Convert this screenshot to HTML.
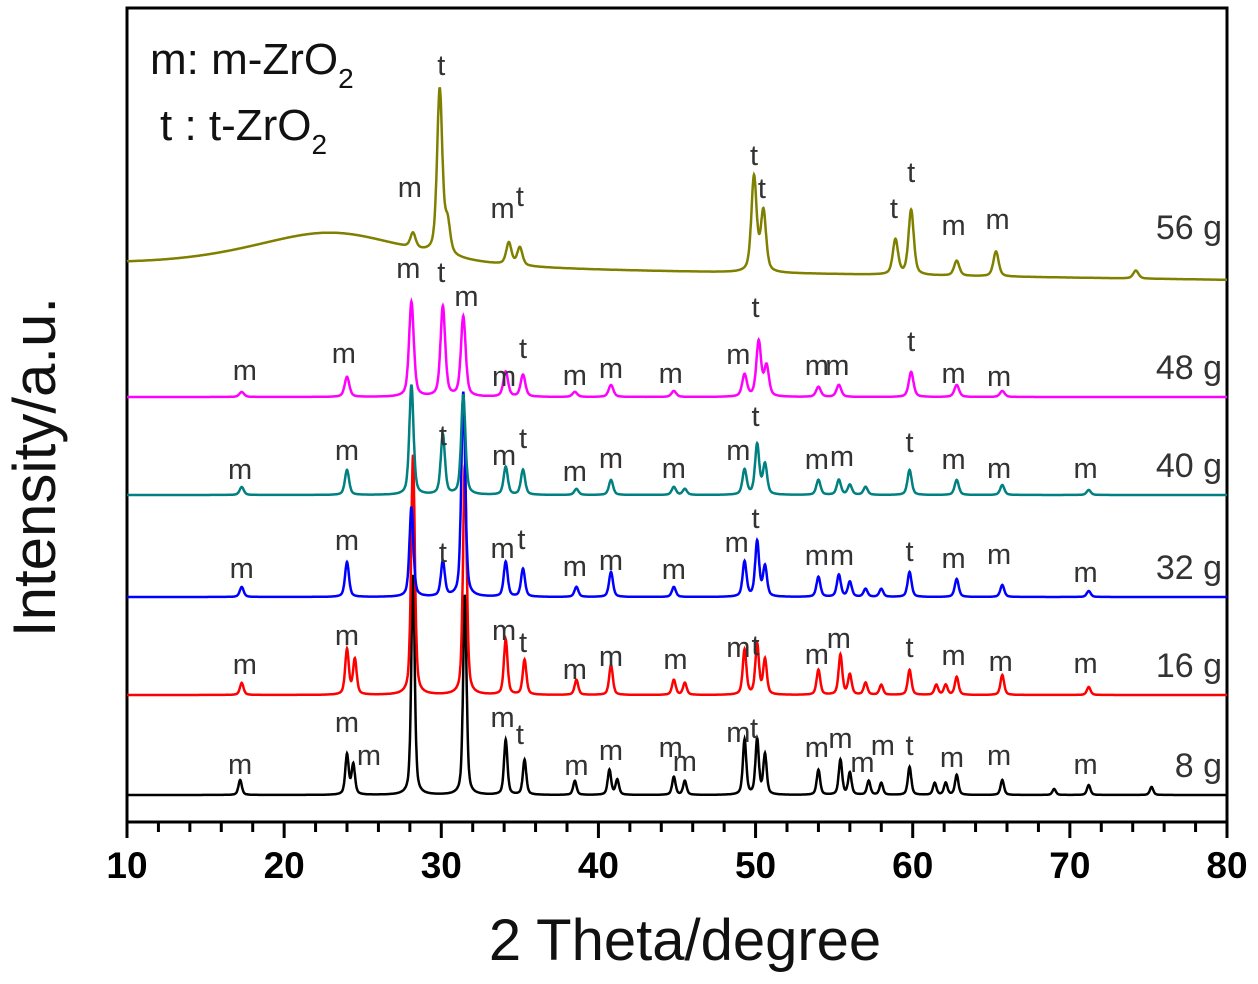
<!DOCTYPE html>
<html><head><meta charset="utf-8"><style>
body{margin:0;background:#fff;}
svg text{font-family:"Liberation Sans",Arial,sans-serif;}
</style></head><body>
<svg id="chart" width="1258" height="979" viewBox="0 0 1258 979" xmlns="http://www.w3.org/2000/svg">
<rect x="127" y="8" width="1100" height="814" fill="none" stroke="#000" stroke-width="3"/>
<g id="series"></g>
<g id="ticks"></g>
<g id="labels" font-size="29" fill="#333"></g>
<text x="150" y="74" font-size="44" fill="#111">m: m-ZrO<tspan font-size="28" dy="14">2</tspan></text>
<text x="160" y="140" font-size="44" fill="#111">t : t-ZrO<tspan font-size="28" dy="14">2</tspan></text>
<text x="685" y="960" font-size="58" text-anchor="middle" fill="#111">2 Theta/degree</text>
<text transform="translate(55,467) rotate(-90)" font-size="60" text-anchor="middle" fill="#111">Intensity/a.u.</text>
</svg>
<script>
const seriesNames = ['8 g','16 g','32 g','40 g','48 g','56 g'];
const seriesColors = ['#000000','#ff0000','#0000ff','#008080','#ff00ff','#808000'];
const seriesOffsets = [30,130,228,330,428,560];
const seriesWidths = [0.13,0.14,0.15,0.16,0.18,0.2];
const peaks8 = [[17.2,15],[24.0,40],[24.4,30],[28.2,220],[31.5,200],[34.1,55],[35.3,35],[38.5,14],[40.7,25],[41.2,15],[44.8,18],[45.5,14],[49.3,55],[50.1,55],[50.6,40],[54.0,25],[55.4,35],[56.0,22],[57.2,14],[58.0,12],[59.8,28],[61.4,12],[62.1,12],[62.8,20],[65.7,15],[69.0,6],[71.2,10],[75.2,8]];
const peaks16 = [[17.3,12],[24.0,45],[24.5,35],[28.2,240],[31.5,230],[34.1,55],[35.3,35],[38.6,15],[40.8,30],[44.8,15],[45.5,12],[49.3,45],[50.1,50],[50.6,35],[54.0,25],[55.4,40],[56.0,20],[57.0,12],[58.0,10],[59.8,25],[61.5,10],[62.1,10],[62.8,18],[65.7,20],[71.2,8]];
const peaks32 = [[17.3,10],[24.0,35],[28.1,90],[30.1,35],[31.4,205],[34.1,35],[35.2,28],[38.6,10],[40.8,25],[44.8,10],[49.3,35],[50.1,55],[50.6,30],[54.0,20],[55.3,22],[56.0,15],[57.0,8],[58.0,8],[59.8,25],[62.8,18],[65.7,12],[71.2,6]];
const peaks40 = [[17.3,8],[24.0,25],[28.1,110],[30.1,60],[31.4,100],[34.1,28],[35.2,25],[38.6,6],[40.8,15],[44.8,8],[45.5,6],[49.3,25],[50.1,50],[50.6,30],[54.0,15],[55.3,15],[56.0,10],[57.0,8],[59.8,25],[62.8,15],[65.7,10],[71.2,5]];
const peaks48 = [[17.3,5],[24.0,20],[28.1,95],[30.1,90],[31.4,80],[34.1,25],[35.2,22],[38.5,5],[40.8,12],[44.8,6],[49.3,22],[50.2,55],[50.7,30],[54.0,10],[55.3,12],[59.9,25],[62.8,12],[65.7,6]];
const peaks56 = [[23.0,35,6],[28.2,15],[29.9,165],[30.4,30],[34.3,22],[35.0,18],[49.9,95],[50.5,60],[58.9,35],[59.9,65],[62.8,15],[65.3,25],[74.2,8]];
const baseStart56 = 0, baseEnd56 = -15;
const allPeaks = [peaks8,peaks16,peaks32,peaks40,peaks48,peaks56];
const xTicks = [10,20,30,40,50,60,70,80];
const peakLabels = [
 [17.2,774,'m'],[24.0,732,'m'],[25.4,765,'m'],[33.9,727,'m'],[35.0,744,'t'],[38.6,775,'m'],[40.8,760,'m'],[44.6,757,'m'],[45.5,771,'m'],[48.9,742,'m'],[49.9,738,'t'],[53.9,757,'m'],[55.4,748,'m'],[56.8,772,'m'],[58.1,755,'m'],[59.8,755,'t'],[62.5,767,'m'],[65.5,765,'m'],[71.0,774,'m'],
 [17.5,674,'m'],[24.0,645,'m'],[34.0,640,'m'],[35.2,652,'t'],[38.5,679,'m'],[40.8,666,'m'],[44.9,669,'m'],[48.9,657,'m'],[50.0,655,'t'],[53.9,664,'m'],[55.3,648,'m'],[59.8,657,'t'],[62.6,665,'m'],[65.6,671,'m'],[71.0,673,'m'],
 [17.3,578,'m'],[24.0,550,'m'],[30.1,562,'t'],[33.9,558,'m'],[35.1,549,'t'],[38.5,576,'m'],[40.8,570,'m'],[44.8,579,'m'],[48.8,552,'m'],[50.0,528,'t'],[53.9,565,'m'],[55.5,565,'m'],[59.8,561,'t'],[62.6,568,'m'],[65.5,564,'m'],[71.0,582,'m'],
 [17.2,479,'m'],[24.0,460,'m'],[30.1,445,'t'],[34.0,465,'m'],[35.2,448,'t'],[38.5,481,'m'],[40.8,468,'m'],[44.8,478,'m'],[48.9,460,'m'],[50.0,426,'t'],[53.9,469,'m'],[55.5,466,'m'],[59.8,452,'t'],[62.6,469,'m'],[65.5,478,'m'],[71.0,478,'m'],
 [17.5,380,'m'],[23.8,363,'m'],[27.9,278,'m'],[30.0,282,'t'],[31.6,306,'m'],[34.0,386,'m'],[35.2,358,'t'],[38.5,385,'m'],[40.8,378,'m'],[44.6,383,'m'],[48.9,364,'m'],[50.0,317,'t'],[53.9,375,'m'],[55.2,375,'m'],[59.9,351,'t'],[62.6,383,'m'],[65.5,386,'m'],
 [28.0,197,'m'],[30.0,75,'t'],[33.9,218,'m'],[35.0,206,'t'],[49.9,165,'t'],[50.4,198,'t'],[58.8,218,'t'],[59.9,182,'t'],[62.6,235,'m'],[65.4,229,'m']
];
const NS='http://www.w3.org/2000/svg';
const X0=127,X1=1227,Y0=825;
function xScale(d){return X0+(d-10)*(X1-X0)/70;}
function yScale(v){return Y0-v;}
const g=document.getElementById('series');
allPeaks.forEach((pk,si)=>{
  let pts=[];
  for(let d=10;d<=80.001;d+=0.02){
    let v=seriesOffsets[si];
    if(si===5) v+=baseStart56+(baseEnd56-baseStart56)*(d-10)/70;
    pk.forEach(p=>{const w=p[2]||seriesWidths[si];const t=(d-p[0])/w;v+=p[1]*(0.5/(1+t*t)+0.5*Math.exp(-t*t*0.7));});
    pts.push(xScale(d).toFixed(1)+','+yScale(v).toFixed(1));
  }
  const pl=document.createElementNS(NS,'polyline');
  pl.setAttribute('points',pts.join(' '));
  pl.setAttribute('fill','none');
  pl.setAttribute('stroke',seriesColors[si]);
  pl.setAttribute('stroke-width','2.5');
  
  
  g.appendChild(pl);
  const tx=document.createElementNS(NS,'text');
  tx.setAttribute('x','1222');tx.setAttribute('y',String(yScale(seriesOffsets[si])-18-(si===5?8:0)));
  tx.setAttribute('text-anchor','end');tx.setAttribute('font-size','34');tx.setAttribute('fill','#333');
  
  
  tx.textContent=seriesNames[si];
  g.appendChild(tx);
});
const tg=document.getElementById('ticks');
for(let d=10;d<=80;d+=2){
  const major=(d%10===0);
  const ln=document.createElementNS(NS,'line');
  ln.setAttribute('x1',xScale(d));ln.setAttribute('x2',xScale(d));
  ln.setAttribute('y1','822');ln.setAttribute('y2',major?'838':'832');
  ln.setAttribute('stroke','#000');ln.setAttribute('stroke-width','3');
  
  
  tg.appendChild(ln);
}
xTicks.forEach(d=>{
  const t=document.createElementNS(NS,'text');
  t.setAttribute('x',xScale(d));t.setAttribute('y','878');t.setAttribute('text-anchor','middle');
  t.setAttribute('font-size','37');t.setAttribute('font-weight','bold');t.setAttribute('fill','#000');
  
  
  t.textContent=d;tg.appendChild(t);
});
const lg=document.getElementById('labels');
peakLabels.forEach(l=>{
  const t=document.createElementNS(NS,'text');
  t.setAttribute('x',xScale(l[0]));t.setAttribute('y',l[1]);t.setAttribute('text-anchor','middle');
  
  
  t.textContent=l[2];lg.appendChild(t);
});
</script>
</body></html>
